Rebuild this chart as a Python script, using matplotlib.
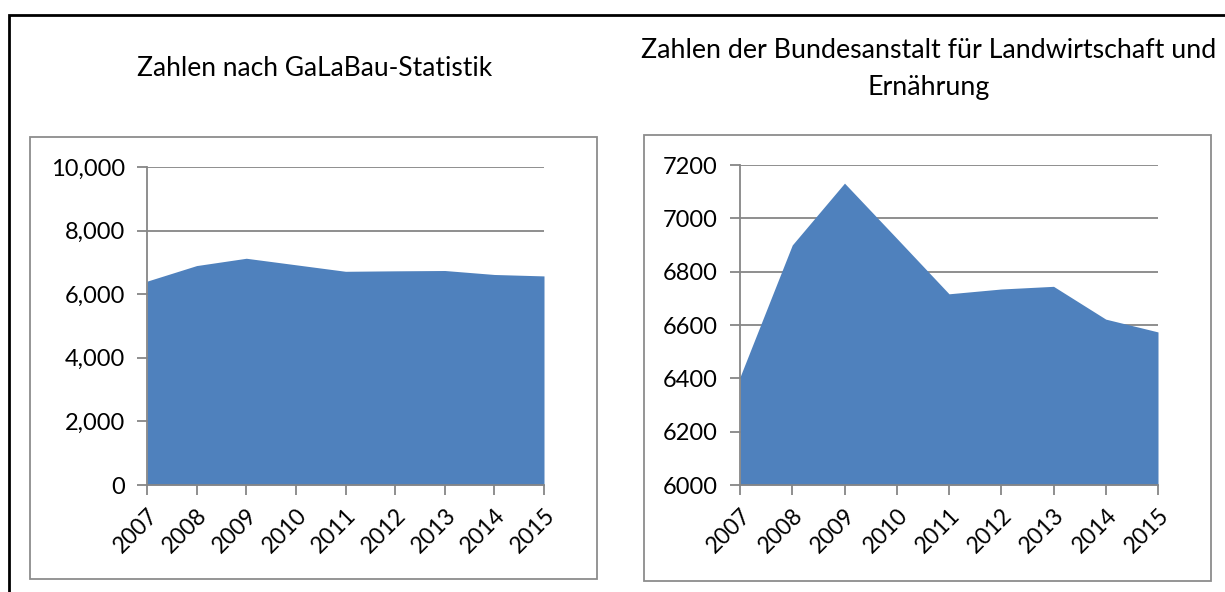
import matplotlib.pyplot as plt
from matplotlib.patches import Rectangle
import numpy as np

years = ['2007', '2008', '2009', '2010', '2011', '2012', '2013', '2014', '2015']
galabau = [6410, 6900, 7130, 6925, 6720, 6735, 6745, 6620, 6575]
ble = [6405, 6900, 7132, 6925, 6717, 6735, 6745, 6622, 6574]

W, H = 1225, 592
plt.rcParams['font.family'] = ['Lato', 'DejaVu Sans']
fig = plt.figure(figsize=(W / 100, H / 100), dpi=100)

def box(x0, y0, x1, y1, **kw):
    # rectangle given in pixel coords (top-left origin)
    fig.patches.append(Rectangle((x0 / W, 1 - y1 / H), (x1 - x0) / W, (y1 - y0) / H,
                                 transform=fig.transFigure, fill=False, **kw))

box(9, 15, 1240, 620, edgecolor='black', linewidth=2)
box(30, 137, 597, 579, edgecolor='#8c8c8c', linewidth=1.3)
box(644, 135, 1211, 581, edgecolor='#8c8c8c', linewidth=1.3)

fill = '#4F81BD'
grid = '#868686'

def panel(rect, values, ymin, ymax, step, fmt):
    x0, y0, x1, y1 = rect
    ax = fig.add_axes([x0 / W, 1 - y1 / H, (x1 - x0) / W, (y1 - y0) / H])
    idx = np.arange(len(years))
    ax.fill_between(idx, values, ymin, color=fill, linewidth=0, zorder=3)
    ax.set_xlim(0, len(years) - 1)
    ax.set_ylim(ymin, ymax)
    ax.set_yticks(np.arange(ymin, ymax + 1, step))
    ax.set_yticklabels([fmt(v) for v in np.arange(ymin, ymax + 1, step)])
    ax.set_xticks(idx)
    ax.set_xticklabels(years, rotation=45, ha='right', va='top', rotation_mode='anchor')
    ax.yaxis.grid(True, color=grid, linewidth=1.3, zorder=1)
    ax.set_axisbelow(True)
    for s in ['top', 'right']:
        ax.spines[s].set_visible(False)
    for s in ['left', 'bottom']:
        ax.spines[s].set_color(grid)
        ax.spines[s].set_linewidth(1.3)
        ax.spines[s].set_zorder(4)
    ax.tick_params(axis='both', direction='out', length=7, width=1.3, color=grid,
                   labelsize=17)
    ax.tick_params(axis='y', pad=9)
    ax.tick_params(axis='x', pad=7, labelsize=16.5)
    return ax

panel((147, 167, 544, 485), galabau, 0, 10000, 2000, lambda v: f'{v:,.0f}')
panel((740, 165, 1158, 485), ble, 6000, 7200, 200, lambda v: f'{v:.0f}')

fig.text(315 / W, 1 - 68 / H, 'Zahlen nach GaLaBau-Statistik', ha='center', va='center', fontsize=19)
fig.text(929 / W, 1 - 69 / H, 'Zahlen der Bundesanstalt für Landwirtschaft und\nErnährung',
         ha='center', va='center', fontsize=19.3, linespacing=1.65)

fig.savefig('out.png', dpi=100)
